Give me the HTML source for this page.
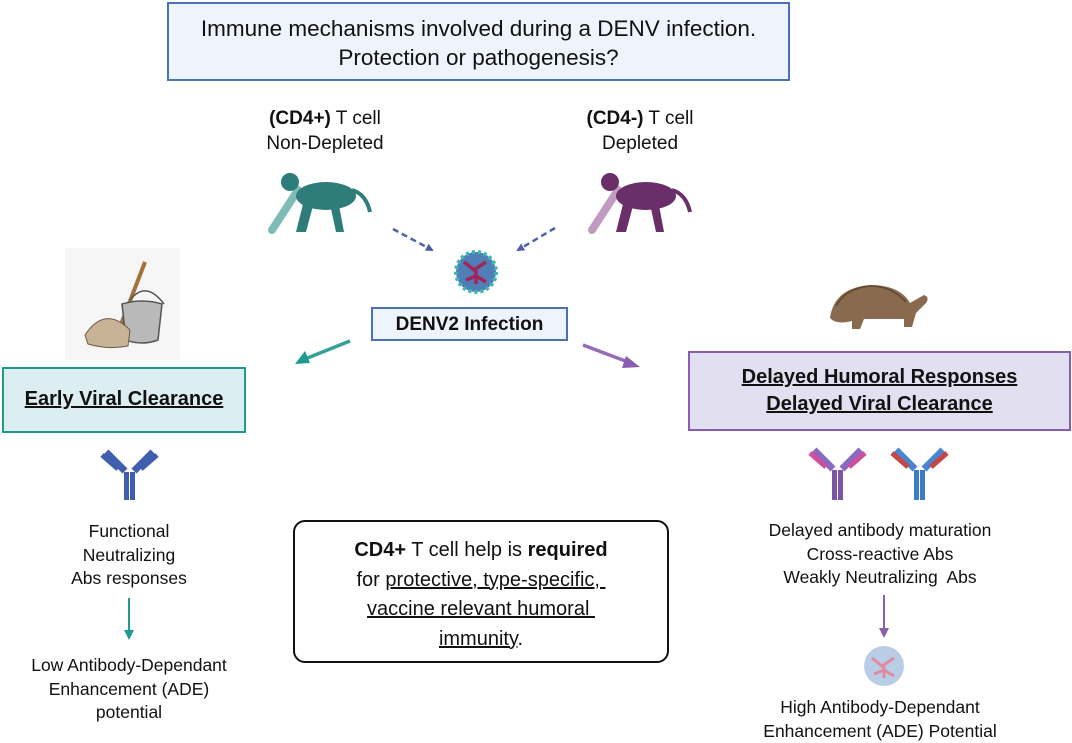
<!DOCTYPE html>
<html><head><meta charset="utf-8"><style>
body{margin:0;width:1072px;height:743px;background:#fff;position:relative;overflow:hidden;font-family:"Liberation Sans",sans-serif;color:#111}
.a{position:absolute}
.t{position:absolute;text-align:center;font-size:17.5px;line-height:23.5px;white-space:nowrap}
</style></head><body>
<div class="a" style="left:167px;top:2px;border:2px solid #4d72b4;background:#eef4fc;text-align:center;font-size:22.5px;line-height:29px;padding-top:10px;box-sizing:border-box;width:623px;height:79px">Immune mechanisms involved during a DENV infection.<br>Protection or pathogenesis?</div>
<div class="t" style="left:225px;width:200px;top:106px;font-size:19px;line-height:25px"><b>(CD4+)</b> T cell<br>Non-Depleted</div>
<div class="t" style="left:540px;width:200px;top:106px;font-size:19px;line-height:25px"><b>(CD4-)</b> T cell<br>Depleted</div>
<div class="a" style="left:371px;top:307px;width:197px;height:34px;border:2px solid #4d72b4;background:#eef4fc;box-sizing:border-box;text-align:center;font-weight:bold;font-size:19px;line-height:32px">DENV2 Infection</div>
<div class="a" style="left:2px;top:367px;width:244px;height:66px;border:2px solid #1e9a8e;background:#ddeef2;box-sizing:border-box;text-align:center;font-weight:bold;font-size:20px;line-height:60px"><u>Early Viral Clearance</u></div>
<div class="a" style="left:688px;top:351px;width:383px;height:80px;border:2px solid #8a5db0;background:#e2dff0;box-sizing:border-box;text-align:center;font-weight:bold;font-size:20px;line-height:27px;padding-top:11px"><u>Delayed Humoral Responses</u><br><u>Delayed Viral Clearance</u></div>
<div class="a" style="left:293px;top:520px;width:376px;height:143px;border:2px solid #111;border-radius:12px;box-sizing:border-box;text-align:center;font-size:20px;line-height:29.5px;padding-top:14px"><b>CD4+</b> T cell help is <b>required</b><br>for <u>protective, type-specific,&nbsp;</u><br><u>vaccine relevant humoral&nbsp;</u><br><u>immunity</u>.</div>
<div class="t" style="left:29px;width:200px;top:520px">Functional<br>Neutralizing<br>Abs responses</div>
<div class="t" style="left:0px;width:258px;top:654px">Low Antibody-Dependant<br>Enhancement (ADE)<br>potential</div>
<div class="t" style="left:730px;width:300px;top:519px">Delayed antibody maturation<br>Cross-reactive Abs<br>Weakly Neutralizing&nbsp; Abs</div>
<div class="t" style="left:730px;width:300px;top:696px">High Antibody-Dependant<br>Enhancement (ADE) Potential</div>
<svg class="a" style="left:0;top:0" width="1072" height="743">
<defs>
<marker id="mb" markerWidth="8" markerHeight="8" refX="6" refY="4" orient="auto" markerUnits="userSpaceOnUse"><path d="M0,0L8,4L0,8z" fill="#4d5fa8"/></marker>
<g id="monk">
<path d="M30,12 q10,-3 20,2" stroke="none"/>
<line x1="30" y1="22" x2="6" y2="60" stroke="L" stroke-width="7" stroke-linecap="round"/>
<circle cx="22" cy="12" r="9"/>
<ellipse cx="58" cy="24" rx="30" ry="14"/>
<path d="M40,30 l-6,32 l10,0 l4,-30z"/>
<path d="M70,30 l6,32 l-8,0 l-6,-28z"/>
<path d="M82,18 q14,4 20,22" fill="none" stroke-width="4"/>
</g>
</defs>
<!-- monkeys -->
<g transform="translate(268,170)">
<line x1="30" y1="20" x2="4" y2="60" stroke="#7fbcb8" stroke-width="8" stroke-linecap="round"/>
<circle cx="22" cy="12" r="9" fill="#2f7d7a"/>
<ellipse cx="58" cy="26" rx="30" ry="14" fill="#2f7d7a"/>
<path d="M36,30 l-8,32 l10,0 l8,-30z" fill="#2f7d7a"/>
<path d="M70,30 l6,32 l-8,0 l-6,-28z" fill="#2f7d7a"/>
<path d="M84,20 q14,4 18,22" fill="none" stroke="#2f7d7a" stroke-width="4"/>
</g>
<g transform="translate(588,170)">
<line x1="30" y1="20" x2="4" y2="60" stroke="#c09ac0" stroke-width="8" stroke-linecap="round"/>
<circle cx="22" cy="12" r="9" fill="#6a2f68"/>
<ellipse cx="58" cy="26" rx="30" ry="14" fill="#6a2f68"/>
<path d="M36,30 l-8,32 l10,0 l8,-30z" fill="#6a2f68"/>
<path d="M70,30 l6,32 l-8,0 l-6,-28z" fill="#6a2f68"/>
<path d="M84,20 q14,4 18,22" fill="none" stroke="#6a2f68" stroke-width="4"/>
</g>
<!-- dashed arrows -->
<line x1="393" y1="229" x2="432" y2="250" stroke="#4d5fa8" stroke-width="2.5" stroke-dasharray="6,4" marker-end="url(#mb)"/>
<line x1="555" y1="228" x2="518" y2="250" stroke="#4d5fa8" stroke-width="2.5" stroke-dasharray="6,4" marker-end="url(#mb)"/>
<!-- virus -->
<circle cx="476" cy="272" r="20" fill="#4f7fb6"/><circle cx="476" cy="272" r="20" fill="none" stroke="#3fb5b0" stroke-width="4" stroke-dasharray="3,3"/>
<path d="M464,262 l10,8 l12,-8 M476,270 l0,14 M466,280 l10,-4 l10,6" stroke="#a4245a" stroke-width="3.5" fill="none"/>
<!-- teal/purple arrows -->
<line x1="350" y1="341" x2="305" y2="359" stroke="#1e9a8e" stroke-width="3.5" opacity="0.9"/>
<path d="M295,364 l10,-13 l5,12z" fill="#1e9a8e"/>
<line x1="583" y1="345" x2="628" y2="362" stroke="#8a5db0" stroke-width="3.5" opacity="0.9"/>
<path d="M640,367 l-14,-11 l-4,12z" fill="#8a5db0"/>
<!-- mop -->
<rect x="65" y="248" width="115" height="112" fill="#f6f6f6"/>
<line x1="145" y1="262" x2="115" y2="340" stroke="#a4713c" stroke-width="4"/>
<path d="M122,304 q20,-6 40,0 l-4,36 q-16,6 -32,0z" fill="#b9b9b9" stroke="#555" stroke-width="1.5"/>
<path d="M130,300 q16,-20 34,4" fill="none" stroke="#555" stroke-width="1.5"/>
<path d="M85,335 q20,-30 45,-5 l-2,16 q-20,4 -40,-2z" fill="#c8b397" stroke="#6b5a45" stroke-width="1"/>
<!-- turtle -->
<path d="M830,318 q4,-30 40,-33 q30,0 40,18 l14,-8 q6,2 2,8 l-10,10 l-4,14 l-8,0 l0,-8 l-40,0 l-4,10 l-8,0 l0,-8 q-16,4 -22,-3z" fill="#8a6a4e"/>
<path d="M836,306 q10,-18 34,-20 q22,0 36,16" fill="none" stroke="#5f4632" stroke-width="1.5"/>
<!-- down arrows -->
<line x1="129" y1="598" x2="129" y2="632" stroke="#1e9a8e" stroke-width="2"/><path d="M124,630 l5,10 l5,-10z" fill="#1e9a8e"/>
<line x1="884" y1="595" x2="884" y2="630" stroke="#8a5db0" stroke-width="2"/><path d="M879,628 l5,10 l5,-10z" fill="#8a5db0"/>
<!-- small virus -->
<circle cx="884" cy="666" r="20" fill="#b9cde6"/><path d="M872,658 l10,8 l12,-8 M884,666 l0,12 M874,674 l10,-4 l10,6" stroke="#e08aa0" stroke-width="3" fill="none"/>
<!-- antibodies -->
<g transform="translate(100,447)">
<rect x="24" y="25" width="5" height="28" fill="#3f5fae"/><rect x="30" y="25" width="5" height="28" fill="#3f5fae"/>
<line x1="25" y1="24" x2="6" y2="5" stroke="#3f5fae" stroke-width="7"/><line x1="34" y1="24" x2="53" y2="5" stroke="#3f5fae" stroke-width="7"/>
<line x1="18" y1="22" x2="2" y2="8" stroke="#3f5fae" stroke-width="5"/><line x1="41" y1="22" x2="57" y2="8" stroke="#3f5fae" stroke-width="5"/>
</g>
<g transform="translate(808,445)">
<rect x="24" y="25" width="5" height="30" fill="#7a55a8"/><rect x="30" y="25" width="5" height="30" fill="#7a55a8"/>
<line x1="25" y1="24" x2="6" y2="5" stroke="#8a6ac0" stroke-width="7"/><line x1="34" y1="24" x2="53" y2="5" stroke="#8a6ac0" stroke-width="7"/>
<line x1="18" y1="22" x2="2" y2="8" stroke="#d04f9a" stroke-width="5"/><line x1="41" y1="22" x2="57" y2="8" stroke="#d04f9a" stroke-width="5"/>
</g>
<g transform="translate(890,445)">
<rect x="24" y="25" width="5" height="30" fill="#3f7cc8"/><rect x="30" y="25" width="5" height="30" fill="#3f7cc8"/>
<line x1="25" y1="24" x2="6" y2="5" stroke="#4a86d0" stroke-width="7"/><line x1="34" y1="24" x2="53" y2="5" stroke="#4a86d0" stroke-width="7"/>
<line x1="18" y1="22" x2="2" y2="8" stroke="#c84545" stroke-width="5"/><line x1="41" y1="22" x2="57" y2="8" stroke="#c84545" stroke-width="5"/>
</g>
</svg>
</body></html>
